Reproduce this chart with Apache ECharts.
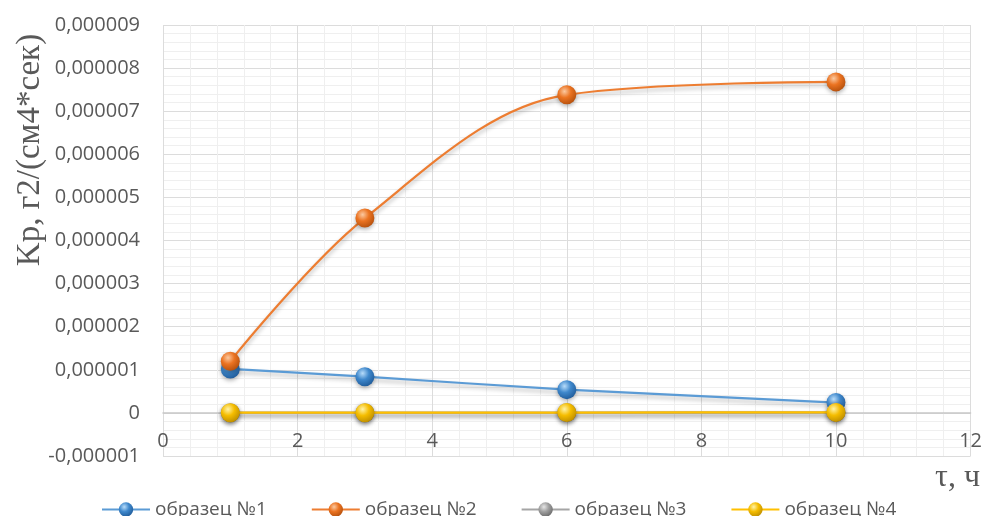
<!DOCTYPE html>
<html>
<head>
<meta charset="utf-8">
<script src="https://cdn.jsdelivr.net/npm/echarts@6/dist/echarts.min.js"></script>
<style>
  html, body { margin: 0; padding: 0; background: #fff; }
  #chart { width: 985px; height: 516px; }
</style>
</head>
<body>
<div id="chart"></div>
<script>
// Exposure time, hours
const hours = [1, 3, 6, 10];
// Kp values, g2/(cm4*s)
const sample1 = [0.00000102, 0.00000084, 0.00000054, 0.00000024];
const sample2 = [0.00000120, 0.00000452, 0.00000738, 0.00000768];
const sample3 = [0.000000005, 0.000000005, 0.000000008, 0.000000012];
const sample4 = [0.000000005, 0.000000005, 0.000000008, 0.000000012];
const seriesNames = ['образец №1', 'образец №2', 'образец №3', 'образец №4'];
const yTitle = 'Kp, г2/(см4*сек)';
const xTitle = 'τ, ч';

const yMin = -0.000001;
const yMax = 0.000009;
const gridTop = 25;
const gridBottom = 60;
const chartHeight = 516;

const palette = [
  { line: '#5b9bd5', light: '#b7dcfa', base: '#3f88cc', dark: '#1d5896' },
  { line: '#ed7d31', light: '#fbc9a0', base: '#eb7321', dark: '#b04d0b' },
  { line: '#a5a5a5', light: '#e6e6e6', base: '#a0a0a0', dark: '#666666' },
  { line: '#ffc000', light: '#fff3a8', base: '#f5bd00', dark: '#b98a00' }
];

function ball(c) {
  return new echarts.graphic.RadialGradient(0.38, 0.32, 0.75, [
    { offset: 0, color: c.light },
    { offset: 0.45, color: c.base },
    { offset: 1, color: c.dark }
  ]);
}

function pairs(values) {
  return hours.map((h, i) => [h, values[i]]);
}

const datasets = [sample1, sample2, sample3, sample4];

const series = datasets.map((vals, i) => ({
  name: seriesNames[i],
  type: 'line',
  data: pairs(vals),
  smooth: i === 1 ? 0.35 : 0.2,
  symbol: 'circle',
  symbolSize: 19,
  z: 2 + i,
  lineStyle: {
    color: palette[i].line,
    width: 2.2,
    shadowColor: 'rgba(0,0,0,0.28)',
    shadowBlur: 4,
    shadowOffsetY: 3
  },
  itemStyle: {
    color: ball(palette[i]),
    borderWidth: 0,
    shadowColor: 'rgba(0,0,0,0.3)',
    shadowBlur: 4,
    shadowOffsetY: 2
  },
  emphasis: { disabled: true }
}));

function fmtY(v) {
  const n = Math.round(v * 1e6);
  if (n === 0) return '0';
  const s = (Math.abs(n) / 1e6).toFixed(6).replace('.', ',');
  return (n < 0 ? '-' : '') + s;
}

// The time axis sits on the zero level of the Kp axis, labels included.
const plotH = chartHeight - gridTop - gridBottom;
const zeroOffset = -plotH * (0 - yMin) / (yMax - yMin);

const chart = echarts.init(document.getElementById('chart'), null, { renderer: 'canvas' });
chart.setOption({
  animation: false,
  backgroundColor: '#ffffff',
  textStyle: { fontFamily: 'Open Sans' },
  grid: { left: 163, right: 12, top: gridTop, bottom: gridBottom, containLabel: false },
  xAxis: {
    type: 'value',
    min: 0,
    max: 12,
    interval: 2,
    offset: zeroOffset,
    axisLine: { show: true, onZero: false, lineStyle: { color: '#c8c8c8', width: 1.5 } },
    axisTick: { show: false },
    axisLabel: { color: '#595959', fontSize: 20, margin: 18, fontFamily: 'Open Sans' },
    splitLine: { show: true, lineStyle: { color: '#dcdcdc', width: 1 } },
    minorTick: { show: false, splitNumber: 5 },
    minorSplitLine: { show: true, lineStyle: { color: '#efefef', width: 1 } }
  },
  yAxis: {
    type: 'value',
    min: yMin,
    max: yMax,
    interval: 0.000001,
    axisLine: { show: false },
    axisTick: { show: false },
    axisLabel: { color: '#595959', fontSize: 20, margin: 23, fontFamily: 'Open Sans', formatter: fmtY },
    splitLine: { show: true, lineStyle: { color: '#dcdcdc', width: 1 } },
    minorTick: { show: false, splitNumber: 5 },
    minorSplitLine: { show: true, lineStyle: { color: '#efefef', width: 1 } }
  },
  legend: {
    data: seriesNames,
    left: 96,
    top: 495,
    itemWidth: 48,
    itemHeight: 18,
    itemGap: 44,
    textStyle: { color: '#595959', fontSize: 19, fontFamily: 'Open Sans' }
  },
  graphic: [
    {
      type: 'text',
      x: 30,
      y: 150,
      rotation: Math.PI / 2,
      style: {
        text: yTitle,
        fontFamily: 'Liberation Serif',
        fontSize: 33,
        fill: '#595959',
        textAlign: 'center',
        textVerticalAlign: 'middle'
      }
    },
    {
      type: 'text',
      x: 980,
      y: 478,
      style: {
        text: xTitle,
        fontFamily: 'Liberation Serif',
        fontSize: 32,
        fill: '#595959',
        textAlign: 'right',
        textVerticalAlign: 'middle'
      }
    }
  ],
  series: series
});
</script>
</body>
</html>
